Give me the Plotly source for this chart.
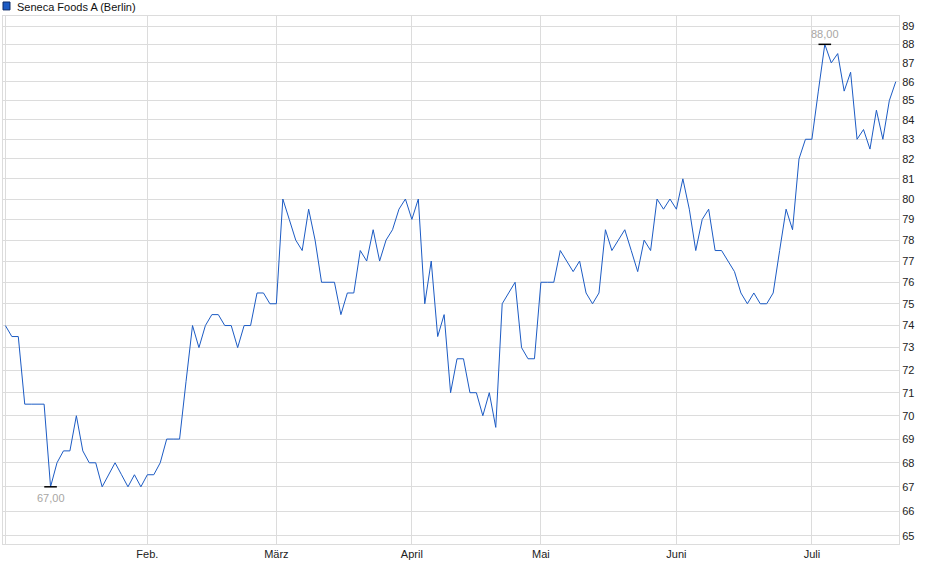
import numpy as np
import pandas as pd
import plotly.graph_objects as go

# Boersenhandelstage 2025 (Berlin), 2. Jan bis 18. Jul
holidays = ["2025-04-18", "2025-04-21", "2025-05-01"]
days = pd.bdate_range("2025-01-02", "2025-07-18")
days = days[~days.isin(pd.to_datetime(holidays))]
dates = [d.strftime("%Y-%m-%d") for d in days]

prices = [
    74, 73.5, 73.5, 70.5, 70.5, 70.5, 70.5, 67, 68, 68.5,
    68.5, 70, 68.5, 68, 68, 67, 67.5, 68, 67.5, 67,
    67.5, 67, 67.5, 67.5, 68, 69, 69, 69, 71.5, 74,
    73, 74, 74.5, 74.5, 74, 74, 73, 74, 74, 75.5,
    75.5, 75, 75, 80, 79, 78, 77.5, 79.5, 78, 76,
    76, 76, 74.5, 75.5, 75.5, 77.5, 77, 78.5, 77, 78,
    78.5, 79.5, 80, 79, 80, 75, 77, 73.5, 74.5, 71,
    72.5, 72.5, 71, 71, 70, 71, 69.5, 75, 75.5, 76,
    73, 72.5, 72.5, 76, 76, 76, 77.5, 77, 76.5, 77,
    75.5, 75, 75.5, 78.5, 77.5, 78, 78.5, 77.5, 76.5, 78,
    77.5, 80, 79.5, 80, 79.5, 81, 79.5, 77.5, 79, 79.5,
    77.5, 77.5, 77, 76.5, 75.5, 75, 75.5, 75, 75, 75.5,
    77.5, 79.5, 78.5, 82, 83, 83, 85.5, 88, 87, 87.5,
    85.5, 86.5, 83, 83.5, 82.5, 84.5, 83, 85, 86,
]

month_ticks = ["2025-01-02", "2025-02-03", "2025-03-03", "2025-04-01",
               "2025-05-02", "2025-06-02", "2025-07-01"]
month_labels = ["", "Feb.", "März", "April", "Mai", "Juni", "Juli"]
y_ticks = list(range(65, 90))

series_name = "Seneca Foods A (Berlin)"
blue = "#1c5bc4"
grid = "#dcdcdc"

i_min = int(np.argmin(prices))
i_max = int(np.argmax(prices))

fig = go.Figure()
fig.add_trace(go.Scatter(
    x=dates, y=prices, mode="lines",
    line=dict(color=blue, width=1),
    showlegend=False, hoverinfo="x+y",
))
fig.add_trace(go.Scatter(
    x=[dates[i_min], dates[i_max]], y=[prices[i_min], prices[i_max]],
    mode="markers",
    marker=dict(symbol="line-ew", size=9, line=dict(width=1.5, color="black")),
    showlegend=False, hoverinfo="skip",
))

for i, shift in [(i_min, -11), (i_max, 10)]:
    fig.add_annotation(
        x=dates[i], y=np.log10(prices[i]),
        text=f"{prices[i]:.2f}".replace(".", ","),
        showarrow=False, yshift=shift,
        font=dict(size=11, color="#a8a6a4"),
    )

# Legende oben links
fig.add_annotation(
    xref="paper", yref="paper", x=0.0135, y=1.0,
    xanchor="left", yanchor="bottom", yshift=1,
    text=series_name, showarrow=False,
    font=dict(size=11, color="#111"),
)
fig.add_shape(
    type="rect", xref="paper", yref="paper",
    x0=0.0, x1=0.0078, y0=1.0115, y1=1.0265,
    fillcolor=blue, line=dict(color="#0d2a66", width=1),
)

fig.update_xaxes(
    type="category",
    range=[-0.37, 138.5],
    tickmode="array", tickvals=month_ticks, ticktext=month_labels,
    showgrid=True, gridcolor=grid, gridwidth=1,
    showline=True, linecolor=grid, mirror=True,
    ticks="", tickfont=dict(size=11, color="#222"),
    zeroline=False,
)
fig.update_yaxes(
    type="log",
    range=[np.log10(64.68), np.log10(89.55)],
    side="right",
    tickmode="array", tickvals=y_ticks, ticktext=[str(v) for v in y_ticks],
    showgrid=True, gridcolor=grid, gridwidth=1,
    showline=True, linecolor=grid, mirror=True,
    ticks="", tickfont=dict(size=11, color="#222"),
    zeroline=False,
)
fig.update_layout(
    width=940, height=579,
    margin=dict(l=3, r=41, t=16, b=35),
    paper_bgcolor="white", plot_bgcolor="white",
    font=dict(family="Liberation Sans, Arial, sans-serif"),
)

fig.write_html(
    "out.html",
    config={"displayModeBar": False},
    post_script="document.body.style.margin='0';",
)
